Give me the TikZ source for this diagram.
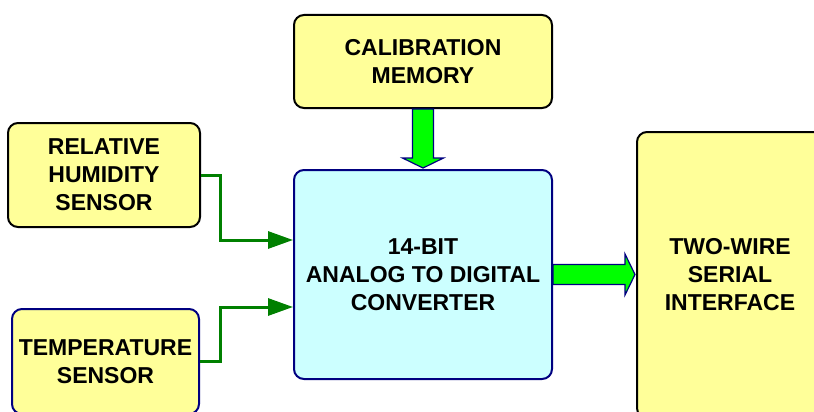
\documentclass[tikz,border=0pt]{standalone}
\usepackage{fontspec}
\setmainfont{Liberation Sans}
\usetikzlibrary{calc,arrows.meta}
\definecolor{boxyellow}{HTML}{FFFF99}
\definecolor{boxcyan}{HTML}{CCFFFF}
\definecolor{wiregreen}{HTML}{008000}
\definecolor{blockgreen}{HTML}{00FF00}
\definecolor{navy}{HTML}{000080}
\begin{document}
\begin{tikzpicture}[x=1pt,y=-1pt,
  block/.style={rectangle, rounded corners=10pt, line width=2pt, align=center,
    font=\fontsize{23}{28}\selectfont\bfseries, inner sep=0pt},
  yellowblock/.style={block, draw=black, fill=boxyellow},
  wire/.style={draw=wiregreen, line width=3pt,
    -{Triangle[length=25pt,width=17pt]}},
  fatarrow/.style={draw=navy, fill=blockgreen, line width=1.2pt, line join=miter}]
\useasboundingbox (0,0) rectangle (814,412);

% blocks
\node[yellowblock, minimum width=258pt, minimum height=93pt] (cal) at (423,61.5)
  {CALIBRATION\\MEMORY};
\node[yellowblock, minimum width=192pt, minimum height=104pt] (rh) at (104,175)
  {RELATIVE\\HUMIDITY\\SENSOR};
\node[block, draw=navy, fill=boxyellow, minimum width=187pt, minimum height=105pt] (temp) at (105.5,361.5)
  {TEMPERATURE\\SENSOR};
\node[block, draw=navy, fill=boxcyan, minimum width=258pt, minimum height=209pt] (adc) at (423,274.5)
  {14-BIT\\ANALOG TO DIGITAL\\CONVERTER};
\node[yellowblock, minimum width=186pt, minimum height=286pt] (twi) at (730,275)
  {TWO-WIRE\\SERIAL\\INTERFACE};

% sensor wires
\draw[wire] (rh.east) -- ++(19,0) |- ($(adc.west)+(0,-34.5)$);
\draw[wire] (temp.east) -- ++(20,0) |- ($(adc.west)+(0,32.5)$);

% calibration data into the converter
\draw[fatarrow] ($(cal.south)+(-10.5,0)$) -- ($(cal.south)+(10.5,0)$)
  -- ($(adc.north)+(10.5,-11)$) -- ($(adc.north)+(20.5,-11)$)
  -- ($(adc.north)+(0,-1)$)
  -- ($(adc.north)+(-20.5,-11)$) -- ($(adc.north)+(-10.5,-11)$) -- cycle;

% converter output to the serial interface
\draw[fatarrow] ($(adc.east)+(0,-10)$) -- ($(twi.west)+(-11,-10.5)$)
  -- ($(twi.west)+(-11,-21)$) -- ($(twi.west)+(-1,-0.5)$)
  -- ($(twi.west)+(-11,20)$) -- ($(twi.west)+(-11,9.5)$)
  -- ($(adc.east)+(0,10)$) -- cycle;
\end{tikzpicture}
\end{document}
